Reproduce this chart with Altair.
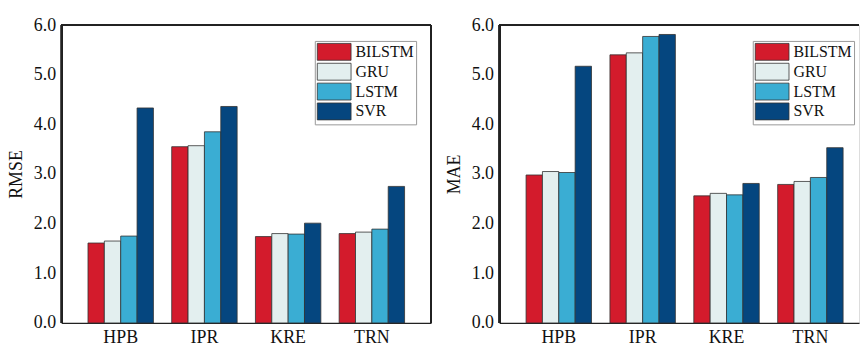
import altair as alt
import pandas as pd

groups = ["HPB", "IPR", "KRE", "TRN"]
models = ["BILSTM", "GRU", "LSTM", "SVR"]
colors = ["#D31B2C", "#E3EFEF", "#3AADD3", "#05467F"]

rmse_bilstm = [1.61, 3.55, 1.74, 1.80]
rmse_gru = [1.65, 3.57, 1.80, 1.83]
rmse_lstm = [1.75, 3.85, 1.79, 1.89]
rmse_svr = [4.33, 4.36, 2.01, 2.75]

mae_bilstm = [2.98, 5.40, 2.56, 2.79]
mae_gru = [3.05, 5.44, 2.61, 2.85]
mae_lstm = [3.03, 5.77, 2.58, 2.93]
mae_svr = [5.17, 5.81, 2.81, 3.53]


def frame(series):
    rows = []
    for m, vals in zip(models, series):
        for g, v in zip(groups, vals):
            rows.append({"group": g, "model": m, "value": v})
    return pd.DataFrame(rows)


rmse_df = frame([rmse_bilstm, rmse_gru, rmse_lstm, rmse_svr])
mae_df = frame([mae_bilstm, mae_gru, mae_lstm, mae_svr])

FONT = "Liberation Serif"
SWATCH = "M-1,-1L3,-1L3,1L-1,1Z"
LINE = "#222222"


def panel(df, title, width, x_scale, right_edge):
    bars = alt.Chart(df).mark_bar(stroke="#333333", strokeWidth=0.8).encode(
        x=alt.X("group:N", sort=groups, scale=x_scale,
                axis=alt.Axis(title=None, labelAngle=0, ticks=False, labelPadding=6,
                              labelFont=FONT, labelFontSize=18, labelColor="#111111",
                              domain=True, domainColor=LINE, domainWidth=1.3)),
        xOffset=alt.XOffset("model:N", sort=models,
                            scale=alt.Scale(paddingInner=0, paddingOuter=0)),
        y=alt.Y("value:Q", scale=alt.Scale(domain=[0, 6], nice=False),
                axis=alt.Axis(title=title, values=[0, 1, 2, 3, 4, 5, 6], format=".1f",
                              grid=False, ticks=False, labelPadding=6,
                              labelFont=FONT, labelFontSize=18, labelColor="#111111",
                              titleFont=FONT, titleFontSize=18, titleFontWeight="normal",
                              titleColor="#111111", titlePadding=8,
                              domain=True, domainColor=LINE, domainWidth=1.3)),
        color=alt.Color("model:N", sort=models,
                        scale=alt.Scale(domain=models, range=colors),
                        legend=alt.Legend(title=None, orient="none", legendX=255, legendY=16,
                                          symbolType=SWATCH, symbolSize=289,
                                          symbolStrokeColor="#333333", symbolStrokeWidth=0.8,
                                          labelFont=FONT, labelFontSize=16, labelColor="#111111",
                                          labelOffset=21, rowPadding=-3, padding=2,
                                          strokeColor="#999999", fillColor="white")),
    )
    top = alt.Chart(df).mark_rule(color=LINE, strokeWidth=1.3).encode(
        x=alt.value(0), x2=alt.value(width), y=alt.value(0))
    side = alt.Chart(df).mark_rule(color=LINE, strokeWidth=1.3).encode(
        x=alt.value(0), y=alt.value(0), y2=alt.value(300))
    layers = [bars, top, side]
    if right_edge:
        rside = alt.Chart(df).mark_rule(color=LINE, strokeWidth=1.3).encode(
            x=alt.value(width), y=alt.value(0), y2=alt.value(300))
        layers.append(rside)
    return alt.layer(*layers).properties(width=width, height=300)


left = panel(rmse_df, "RMSE", 372,
             alt.Scale(paddingInner=0.2185, paddingOuter=0.3157), True)
right = panel(mae_df, "MAE", 362,
              alt.Scale(paddingInner=0.2185, paddingOuter=0.2525, align=0.627), False)

chart = alt.hconcat(
    left, right, spacing=12
).resolve_scale(color="independent").resolve_legend(color="independent").properties(
    padding={"left": 7, "top": 14, "right": 0, "bottom": 0}
).configure_view(stroke=None).configure(background="white")

chart.save("out.html", embed_options={"renderer": "svg", "actions": False})
